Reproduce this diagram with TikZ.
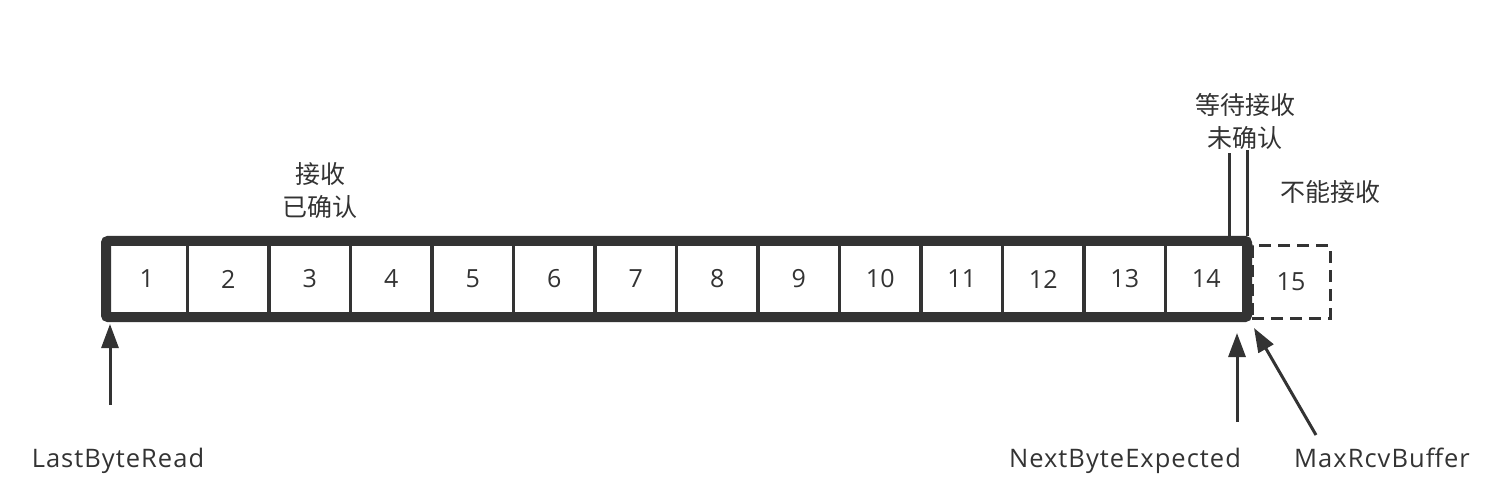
\documentclass[tikz,border=0pt]{standalone}
\usepackage{fontspec}
\setmainfont{Open Sans}
\newfontfamily\cjk{Noto Sans CJK SC}
\newfontfamily\lblfont[LetterSpace=4]{Open Sans}
\usetikzlibrary{arrows.meta}
\definecolor{ink}{HTML}{333333}
\tikzset{
  cell/.style={draw=ink,line width=3pt,minimum width=81.4pt,minimum height=70pt,inner sep=0pt,font=\fontsize{25}{25}\selectfont,text=ink},
  frame/.style={draw=ink,line width=10pt,rounded corners=2pt},
  lbl/.style={text=ink,font=\lblfont\fontsize{25.5}{25.5}\selectfont,inner sep=0pt,anchor=base},
  clbl/.style={text=ink,font=\cjk\fontsize{25}{33}\selectfont,inner sep=0pt,align=center},
  ptr/.style={draw=ink,line width=3pt,-{Triangle[length=24pt,width=17pt]}},
}
\begin{document}
\begin{tikzpicture}[x=1pt,y=-1pt]
\useasboundingbox (0,0) rectangle (1496,494);
\foreach \i in {1,...,14} {
  \node[cell] (c\i) at ({106+81.5*(\i-0.5)},279) {\i};
}
\node[cell,dashed,dash pattern=on 12pt off 7pt,minimum width=78pt,minimum height=72pt] (c15) at (1291,282) {15};
\draw[frame] (106,241) rectangle (1247,317);
\coordinate (tl) at (1229,236);
\coordinate (tr) at (1247,236);
\node[clbl] (acc) at (320,191) {接收\\已确认};
\node[clbl] (wait) at (1245,121) {等待接收\\未确认};
\node[clbl] (no) at (1330,192) {不能接收};
\coordinate (w1) at (1229,153);
\coordinate (w2) at (1247,150);
\draw[draw=ink,line width=3pt] (tl) -- (w1);
\draw[draw=ink,line width=3pt] (tr) -- (w2);
\node[lbl] (lbr) at (118,467) {LastByteRead};
\node[lbl] (nbe) at (1125,467) {NextByteExpected};
\node[lbl] (mrb) at (1382,467) {MaxRcvBuffer};
\coordinate (a1) at (110,405);
\coordinate (a2) at (1237,422);
\coordinate (a3) at (1316,435);
\draw[ptr] (a1) -- (110,324);
\draw[ptr] (a2) -- (1237,333);
\draw[ptr] (a3) -- (1254,328);
\end{tikzpicture}
\end{document}
